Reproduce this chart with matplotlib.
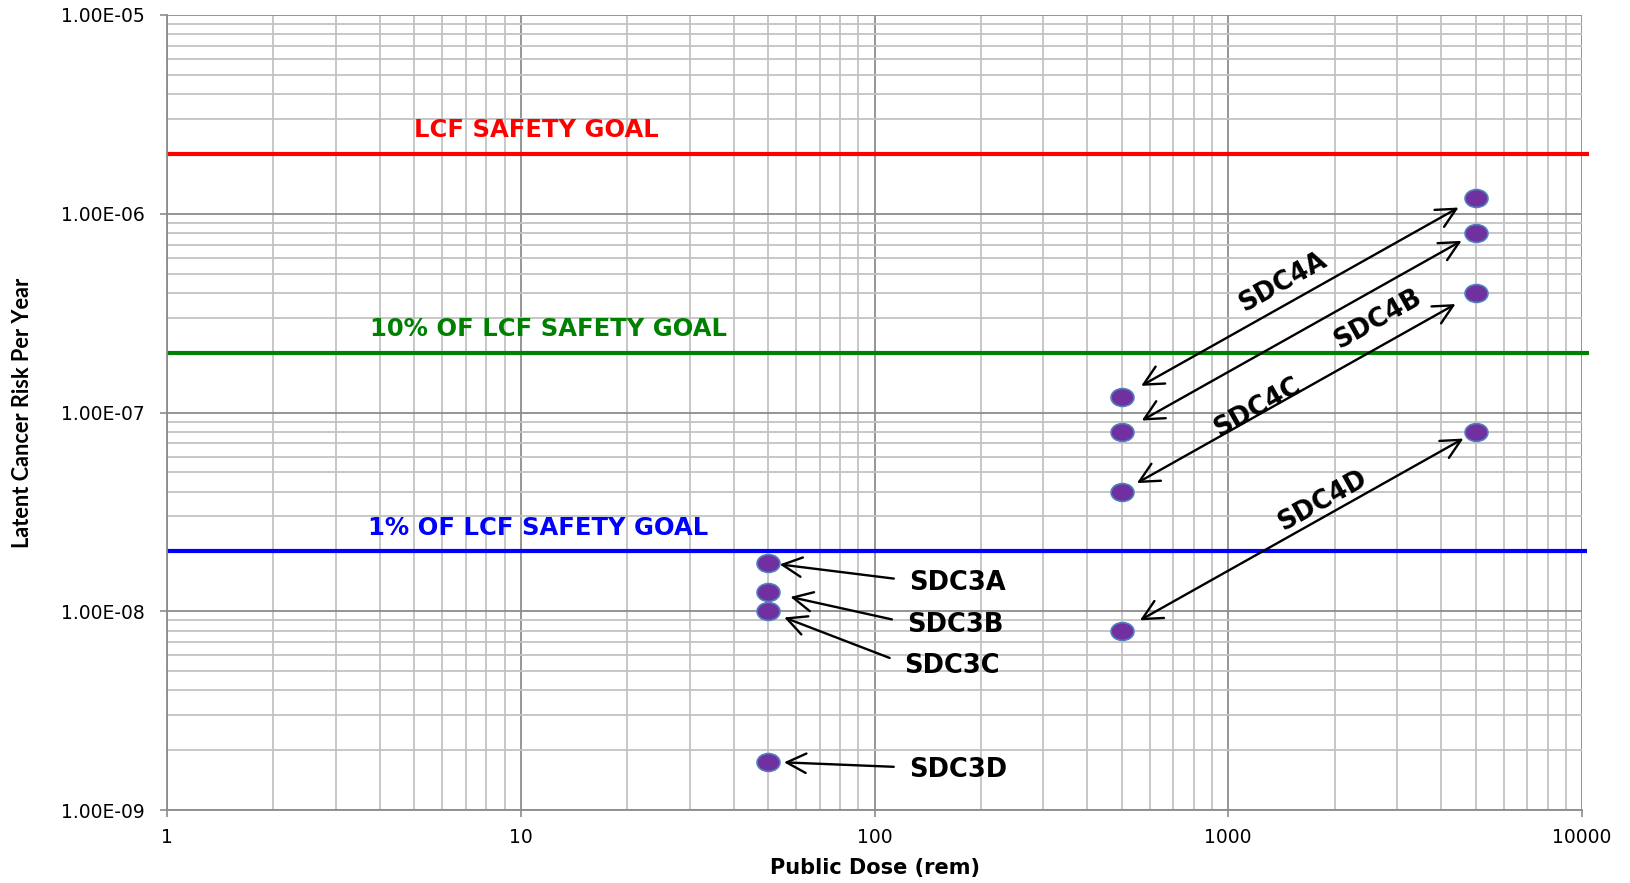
import numpy as np
import matplotlib
matplotlib.use("Agg")
import matplotlib.pyplot as plt
from matplotlib.path import Path
from matplotlib.markers import MarkerStyle
from matplotlib.transforms import Affine2D
from matplotlib.ticker import FixedLocator, FuncFormatter, LogLocator, NullFormatter
from matplotlib import font_manager

# ---- data -------------------------------------------------------------
sdc3_labels = ["SDC3A", "SDC3B", "SDC3C", "SDC3D"]
sdc3_dose = [50, 50, 50, 50]
sdc3_risk = [1.75e-8, 1.25e-8, 1.0e-8, 1.75e-9]

sdc4_labels = ["SDC4A", "SDC4B", "SDC4C", "SDC4D"]
sdc4_dose_low = [500, 500, 500, 500]
sdc4_risk_low = [1.2e-7, 8.0e-8, 4.0e-8, 8.0e-9]
sdc4_dose_high = [5000, 5000, 5000, 5000]
sdc4_risk_high = [1.2e-6, 8.0e-7, 4.0e-7, 8.0e-8]

goal_labels = ["LCF SAFETY GOAL", "10% OF LCF SAFETY GOAL", "1% OF LCF SAFETY GOAL"]
goal_values = [2e-6, 2e-7, 2e-8]
goal_colors = ["#FF0000", "#008000", "#0000FF"]

x_ticks = [1, 10, 100, 1000, 10000]
y_ticks = [1e-9, 1e-8, 1e-7, 1e-6, 1e-5]

# ---- layout / style ---------------------------------------------------
goal_text_x = [5.0, 3.74, 3.70]          # left edge of each goal caption
goal_line_end = [10500, 10500, 10300]    # goal lines run a little past the frame
sdc3_text_offset = [(101.5, -14.5), (100, -24), (98, -39.5), (101.5, -6)]
sdc3_shrink_tip = [8.5, 16.5, 12.5, 11.5]
sdc4_text_offset = [(-11.5, 11), (57, 9.5), (-30, -11), (17, 22)]
sdc4_shrink = [(16, 14), (16.5, 11.5), (12.5, 16.5), (15, 10)]

FILL = "#7030A0"
EDGE = "#4F81BD"
MAJOR_GRID = "#8C8C8C"
MINOR_GRID = "#C3C3C3"

installed = {f.name for f in font_manager.fontManager.ttflist}
ylab_family = "Liberation Sans Narrow" if "Liberation Sans Narrow" in installed else "Lato"
ylab_size = 17.5 if ylab_family == "Liberation Sans Narrow" else 15.7

fig = plt.figure(figsize=(16.3, 8.83), dpi=100)
ax = fig.add_axes([167 / 1630, 1 - 810 / 883, 1415 / 1630, 795 / 883])
ax.set_xscale("log")
ax.set_yscale("log")
ax.set_xlim(1, 10000)
ax.set_ylim(1e-9, 1e-5)

# grid
ax.xaxis.set_major_locator(FixedLocator(x_ticks))
ax.yaxis.set_major_locator(FixedLocator(y_ticks))
ax.xaxis.set_minor_locator(LogLocator(base=10, subs=np.arange(2, 10)))
ax.yaxis.set_minor_locator(LogLocator(base=10, subs=np.arange(2, 10)))
ax.xaxis.set_minor_formatter(NullFormatter())
ax.yaxis.set_minor_formatter(NullFormatter())
ax.xaxis.set_major_formatter(FuncFormatter(lambda v, p: f"{v:g}"))
ax.yaxis.set_major_formatter(FuncFormatter(lambda v, p: f"{v:.2E}"))
ax.grid(which="minor", color=MINOR_GRID, lw=1.3, zorder=0)
ax.grid(which="major", color=MAJOR_GRID, lw=1.3, zorder=0.5)
ax.set_axisbelow(True)

for s in ["top", "right"]:
    ax.spines[s].set_visible(False)
for s in ["left", "bottom"]:
    ax.spines[s].set_color(MAJOR_GRID)
    ax.spines[s].set_linewidth(1.3)
ax.tick_params(which="major", direction="out", length=5, width=1.2,
               color=MAJOR_GRID, labelsize=13.5, labelcolor="#000000")
ax.tick_params(which="minor", length=0)
ax.tick_params(axis="y", pad=11)
ax.tick_params(axis="x", pad=8)
for lab in ax.get_xticklabels() + ax.get_yticklabels():
    lab.set_fontfamily("DejaVu Sans")

ax.set_xlabel("Public Dose (rem)", fontsize=15, fontweight="bold",
              family="DejaVu Sans", labelpad=8)
ax.set_ylabel("Latent Cancer Risk Per Year", fontsize=ylab_size, fontweight="bold",
              family=ylab_family, labelpad=20)

# safety goal lines
for lab, val, col, tx, xe in zip(goal_labels, goal_values, goal_colors,
                                 goal_text_x, goal_line_end):
    ax.plot([1, xe], [val, val], color=col, lw=3, clip_on=False, zorder=2,
            solid_capstyle="butt")
    ax.annotate(lab, xy=(tx, val), xytext=(0, 17), textcoords="offset points",
                ha="left", va="center", color=col, fontsize=17.5,
                fontweight="bold", family="DejaVu Sans")

# elliptical marker
ell = Path.unit_circle().transformed(Affine2D().scale(1.0, 0.78))
mk = MarkerStyle(ell)
msize = 16.5

ax.plot(sdc3_dose, sdc3_risk, ls="none", marker=mk, ms=msize,
        mfc=FILL, mec=EDGE, mew=1.2, zorder=4)
ax.plot(sdc4_dose_low, sdc4_risk_low, ls="none", marker=mk, ms=msize,
        mfc=FILL, mec=EDGE, mew=1.2, zorder=4)
ax.plot(sdc4_dose_high, sdc4_risk_high, ls="none", marker=mk, ms=msize,
        mfc=FILL, mec=EDGE, mew=1.2, zorder=4)

label_font = dict(fontsize=18.5, fontweight="bold", family="DejaVu Sans", color="black")
arrow_head = "head_length=0.7,head_width=0.35"

# SDC3 callouts
for lab, x, y, off, sb in zip(sdc3_labels, sdc3_dose, sdc3_risk,
                              sdc3_text_offset, sdc3_shrink_tip):
    ax.annotate(lab, xy=(x, y), xytext=off, textcoords="offset points",
                ha="left", va="center", zorder=5,
                arrowprops=dict(arrowstyle="->," + arrow_head,
                                mutation_scale=20, lw=1.7, color="black",
                                shrinkA=9, shrinkB=sb, relpos=(0, 0.6)),
                **label_font)

# SDC4 double arrows with rotated captions
for lab, x0, y0, x1, y1, off, (sa, sb) in zip(sdc4_labels, sdc4_dose_low, sdc4_risk_low,
                                              sdc4_dose_high, sdc4_risk_high,
                                              sdc4_text_offset, sdc4_shrink):
    ax.annotate("", xy=(x1, y1), xytext=(x0, y0), zorder=5,
                arrowprops=dict(arrowstyle="<->," + arrow_head,
                                mutation_scale=20, lw=1.7, color="black",
                                shrinkA=sa, shrinkB=sb))
    xm, ym = np.sqrt(x0 * x1), np.sqrt(y0 * y1)
    ax.annotate(lab, xy=(xm, ym), xytext=off, textcoords="offset points",
                ha="center", va="center", rotation=29.3,
                rotation_mode="anchor", zorder=5, **label_font)

fig.savefig("out.png", dpi=100)
